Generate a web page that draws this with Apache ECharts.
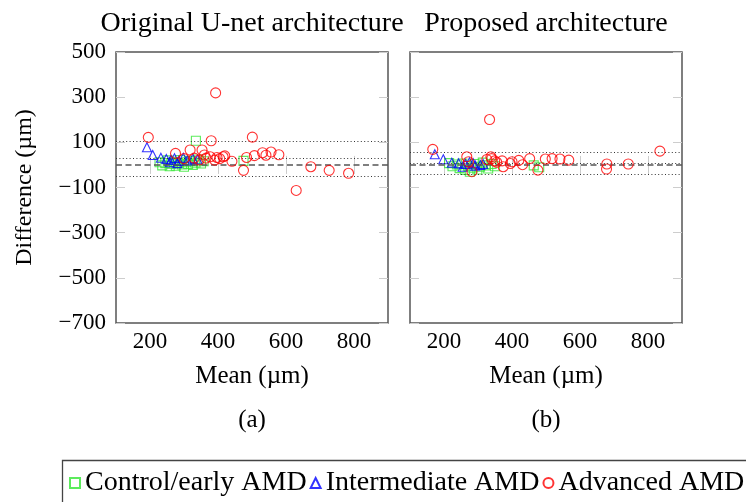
<!DOCTYPE html>
<html>
<head>
<meta charset="utf-8">
<script src="https://cdn.jsdelivr.net/npm/echarts@6/dist/echarts.min.js"></script>
<style>
  html, body { margin: 0; padding: 0; background: #fff; }
  #chart { width: 746px; height: 502px; }
</style>
</head>
<body>
<div id="chart"></div>
<script>
// Bland-Altman style panels: difference vs. mean thickness for two networks
const xTicks = [200, 400, 600, 800];
const yTicks = [-700, -500, -300, -100, 100, 300, 500];
const xRange = [100, 900];
const yRange = [-700, 500];

const panelTitles = ['Original U-net architecture', 'Proposed architecture'];
const panelTags = ['(a)', '(b)'];
const groupNames = ['Control/early AMD', 'Intermediate AMD', 'Advanced AMD'];

// [mean, difference] pairs, original U-net
const controlOrig = [[228, 12], [236, -2], [245, 8], [252, 20], [258, -6], [263, 5], [270, 14], [276, -4],
  [282, 8], [288, 22], [294, 2], [300, -8], [306, 12], [312, 4], [318, 18], [326, 0], [334, 10],
  [342, 24], [350, 6], [358, 16], [335, 107], [475, 18]];
const intermOrig = [[191, 78], [208, 44], [232, 32], [248, 26], [258, 12], [262, 22], [272, 30], [280, 8],
  [285, 18], [298, 32], [310, 20], [326, 28], [340, 24]];
const advancedOrig = [[195, 122], [393, 319], [380, 107], [501, 123], [275, 51], [318, 66], [353, 66],
  [360, 44], [377, 36], [397, 33], [415, 36], [390, 21], [441, 16], [484, 33], [507, 41], [531, 54],
  [541, 43], [556, 57], [579, 45], [475, -24], [673, -8], [727, -24], [784, -37], [630, -113],
  [300, 28], [330, 30], [345, 22], [365, 30], [405, 28], [420, 40]];

// [mean, difference] pairs, proposed network
const controlProp = [[215, 8], [225, -6], [238, 2], [246, -14], [254, 6], [262, -22], [270, -4], [276, -30],
  [284, -12], [290, 4], [298, -20], [306, -8], [314, 10], [322, -2], [330, -16], [340, 4], [350, -6],
  [464, -2], [480, -10]];
const intermProp = [[173, 47], [198, 25], [223, 10], [243, 7], [255, -8], [263, 4], [275, 12], [286, 7],
  [292, -3], [307, 0], [315, 4]];
const advancedProp = [[167, 69], [334, 201], [835, 61], [742, 4], [679, 4], [678, -18], [476, -23],
  [567, 21], [541, 26], [518, 28], [498, 26], [452, 28], [431, 1], [400, 14], [374, -8], [371, 18],
  [338, 36], [349, 18], [267, 36], [272, 14], [282, -30], [395, 6], [326, 24], [355, 12], [420, 20],
  [340, 28]];

// bias and limits of agreement for each panel
const meanDiff = [28, 8];
const upperLoA = [106, 58];
const lowerLoA = [-51, -42];
const zeroLine = 0;

const FONT = 'Liberation Serif';
const minus = v => String(v).replace('-', '\u2212');

const grids = [
  { left: 116, top: 52, width: 272, height: 271 },
  { left: 410, top: 52, width: 272, height: 271 }
].map(g => Object.assign(g, {
  show: true, borderColor: '#555', borderWidth: 1.5, backgroundColor: 'transparent', containLabel: false
}));

const tickStyle = { show: true, inside: true, length: 9, lineStyle: { color: '#cdcdcd', width: 1 } };

const xAxes = [], yAxes = [];
[0, 1].forEach(i => {
  xAxes.push({
    type: 'value', gridIndex: i, position: 'bottom', min: xRange[0], max: xRange[1],
    axisLine: { show: false }, splitLine: { show: false },
    axisTick: Object.assign({ customValues: xTicks }, tickStyle),
    axisLabel: { customValues: xTicks, margin: 7, color: '#000', fontFamily: FONT, fontSize: 23, formatter: minus },
    name: 'Mean (\u00b5m)', nameLocation: 'middle', nameGap: 41,
    nameTextStyle: { color: '#000', fontFamily: FONT, fontSize: 25 }
  });
  xAxes.push({
    type: 'value', gridIndex: i, position: 'top', min: xRange[0], max: xRange[1],
    axisLine: { show: false }, splitLine: { show: false },
    axisTick: Object.assign({ customValues: xTicks }, tickStyle),
    axisLabel: { show: false }
  });
  yAxes.push({
    type: 'value', gridIndex: i, position: 'left', min: yRange[0], max: yRange[1],
    axisLine: { show: false }, splitLine: { show: false },
    axisTick: Object.assign({ customValues: yTicks }, tickStyle),
    axisLabel: { show: i === 0, customValues: yTicks, margin: 10, color: '#000', fontFamily: FONT, fontSize: 23, formatter: minus },
    name: i === 0 ? 'Difference (\u00b5m)' : '', nameLocation: 'middle', nameGap: 79,
    nameTextStyle: { color: '#000', fontFamily: FONT, fontSize: 24 }
  });
  yAxes.push({
    type: 'value', gridIndex: i, position: 'right', min: yRange[0], max: yRange[1],
    axisLine: { show: false }, splitLine: { show: false },
    axisTick: Object.assign({ customValues: yTicks }, tickStyle),
    axisLabel: { show: false }
  });
});

const colors = ['#33e633', '#0000ff', '#ff0000'];
const symbols = ['rect', 'triangle', 'circle'];
const sizes = [9, 9, 10];
const panelData = [[controlOrig, intermOrig, advancedOrig], [controlProp, intermProp, advancedProp]];

const dotted = { type: [1, 2.4], color: '#333', width: 1 };
const dashed = { type: [6, 3.5], color: '#555', width: 1.6 };

const series = [];
[0, 1].forEach(p => {
  [0, 1, 2].forEach(k => {
    const s = {
      type: 'scatter', name: groupNames[k],
      xAxisIndex: p * 2, yAxisIndex: p * 2,
      data: panelData[p][k],
      symbol: symbols[k], symbolSize: sizes[k],
      itemStyle: { color: 'rgba(0,0,0,0)', borderColor: colors[k], borderWidth: 1.1 },
      emphasis: { disabled: true },
      z: 3 + k
    };
    if (k === 0) {
      s.markLine = {
        silent: true, symbol: 'none', animation: false, label: { show: false },
        emphasis: { disabled: true },
        data: [
          { yAxis: zeroLine, lineStyle: dashed },
          { yAxis: meanDiff[p], lineStyle: dotted },
          { yAxis: upperLoA[p], lineStyle: dotted },
          { yAxis: lowerLoA[p], lineStyle: dotted }
        ]
      };
    }
    series.push(s);
  });
});

const titles = [];
[0, 1].forEach(p => {
  const cx = grids[p].left + grids[p].width / 2;
  titles.push({
    text: panelTitles[p], left: cx, top: 10, padding: 0, textAlign: 'center',
    textStyle: { fontFamily: FONT, fontSize: 28, fontWeight: 'normal', color: '#000' }
  });
  titles.push({
    text: panelTags[p], left: cx, top: 408, padding: 0, textAlign: 'center',
    textStyle: { fontFamily: FONT, fontSize: 25, fontWeight: 'normal', color: '#000' }
  });
});

const chart = echarts.init(document.getElementById('chart'), null, { renderer: 'canvas' });
chart.setOption({
  animation: false,
  backgroundColor: '#fff',
  title: titles,
  grid: grids,
  xAxis: xAxes,
  yAxis: yAxes,
  legend: {
    data: groupNames, left: 69, top: 469, padding: 0,
    itemWidth: 10, itemHeight: 10, itemGap: 3, width: 900,
    selectedMode: false,
    textStyle: { fontFamily: FONT, fontSize: 28, color: '#000' }
  },
  graphic: [{
    type: 'rect', silent: true, z: 100,
    shape: { x: 62.5, y: 460.5, width: 800, height: 100 },
    style: { fill: 'none', stroke: '#444', lineWidth: 1.3 }
  }],
  series: series
});
</script>
</body>
</html>
